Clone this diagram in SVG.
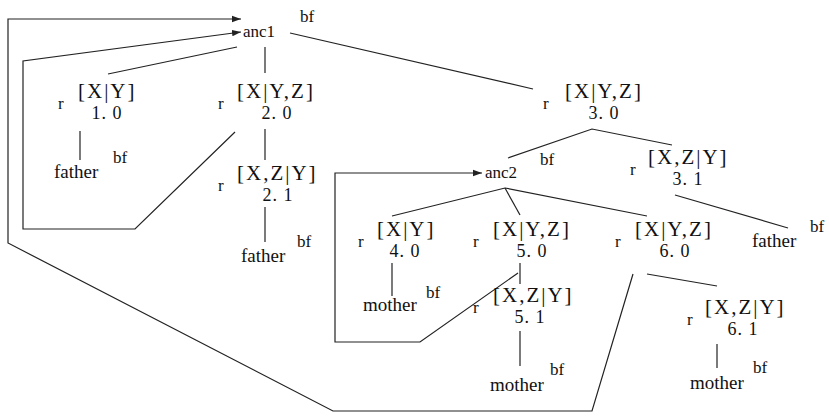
<svg xmlns="http://www.w3.org/2000/svg" width="829" height="418" viewBox="0 0 829 418">
<style>
text{font-family:"Liberation Serif","Times New Roman",serif;fill:#111}
.lb{font-size:21px;letter-spacing:2px}
.nm{font-size:18px;letter-spacing:1px;text-anchor:middle}
.r{font-size:17px}
.w{font-size:19px}
.bf{font-size:17px}
.an{font-size:17px}
.c{fill:none;stroke:#222;stroke-width:1.2}
</style>
<defs>
<marker id="ah" markerWidth="10" markerHeight="8" refX="9" refY="4" orient="auto" markerUnits="userSpaceOnUse">
<path d="M0,0.8 L9,4 L0,7.2 Z" fill="#222"/>
</marker>
</defs>
<rect width="829" height="418" fill="#fff"/>
<g id="connectors">
<path class="c" d="M633,274 L592,411 L333,411 L8,243 L8,19 L241,19" marker-end="url(#ah)"/>
<path class="c" d="M235,132 L135,229 L23,229 L23,61 L241,32" marker-end="url(#ah)"/>
<path class="c" d="M518,273 L420,342 L335,342 L335,173 L482,173" marker-end="url(#ah)"/>
<path class="c" d="M237,47 L108,74"/>
<path class="c" d="M265,47 V73"/>
<path class="c" d="M290,33 L533,89"/>
<path class="c" d="M80,131 V160"/>
<path class="c" d="M265,129 V160"/>
<path class="c" d="M265,207 V242"/>
<path class="c" d="M508,158 L592,129 L672,145"/>
<path class="c" d="M675,195 L788,228"/>
<path class="c" d="M392,216 L505,188 L647,216"/>
<path class="c" d="M505,188 L520,215"/>
<path class="c" d="M392,263 V296"/>
<path class="c" d="M520,263 V284"/>
<path class="c" d="M520,331 V366"/>
<path class="c" d="M647,274 L717,286"/>
<path class="c" d="M717,344 V368"/>
</g>
<g id="anc1"><text class="an" x="243" y="37">anc1</text><text class="bf" x="300" y="22">bf</text></g>
<g id="anc2"><text class="an" x="485" y="178">anc2</text><text class="bf" x="540" y="165">bf</text></g>
<g id="n1_0"><text class="r" x="58" y="109">r</text><text class="lb" x="78" y="98">[X|Y]</text><text class="nm" x="107" y="119">1. 0</text></g>
<g id="n2_0"><text class="r" x="218" y="109">r</text><text class="lb" x="237" y="98">[X|Y,Z]</text><text class="nm" x="277" y="119">2. 0</text></g>
<g id="n3_0"><text class="r" x="543" y="109">r</text><text class="lb" x="565" y="98">[X|Y,Z]</text><text class="nm" x="604" y="119">3. 0</text></g>
<g id="n2_1"><text class="r" x="218" y="191">r</text><text class="lb" x="237" y="180">[X,Z|Y]</text><text class="nm" x="278" y="201">2. 1</text></g>
<g id="n3_1"><text class="r" x="630" y="175">r</text><text class="lb" x="648" y="164">[X,Z|Y]</text><text class="nm" x="688" y="185">3. 1</text></g>
<g id="n4_0"><text class="r" x="358" y="247">r</text><text class="lb" x="377" y="236">[X|Y]</text><text class="nm" x="405" y="257">4. 0</text></g>
<g id="n5_0"><text class="r" x="473" y="247">r</text><text class="lb" x="493" y="236">[X|Y,Z]</text><text class="nm" x="532" y="257">5. 0</text></g>
<g id="n6_0"><text class="r" x="615" y="247">r</text><text class="lb" x="635" y="236">[X|Y,Z]</text><text class="nm" x="675" y="257">6. 0</text></g>
<g id="n5_1"><text class="r" x="473" y="313">r</text><text class="lb" x="493" y="302">[X,Z|Y]</text><text class="nm" x="530" y="323">5. 1</text></g>
<g id="n6_1"><text class="r" x="687" y="325">r</text><text class="lb" x="705" y="314">[X,Z|Y]</text><text class="nm" x="743" y="335">6. 1</text></g>
<g id="father1"><text class="w" x="54" y="178">father</text><text class="bf" x="113" y="163">bf</text></g>
<g id="father2"><text class="w" x="241" y="262">father</text><text class="bf" x="297" y="247">bf</text></g>
<g id="father3"><text class="w" x="752" y="247">father</text><text class="bf" x="810" y="232">bf</text></g>
<g id="mother4"><text class="w" x="363" y="311">mother</text><text class="bf" x="426" y="298">bf</text></g>
<g id="mother5"><text class="w" x="490" y="391">mother</text><text class="bf" x="550" y="375">bf</text></g>
<g id="mother6"><text class="w" x="690" y="389">mother</text><text class="bf" x="753" y="373">bf</text></g>
</svg>
